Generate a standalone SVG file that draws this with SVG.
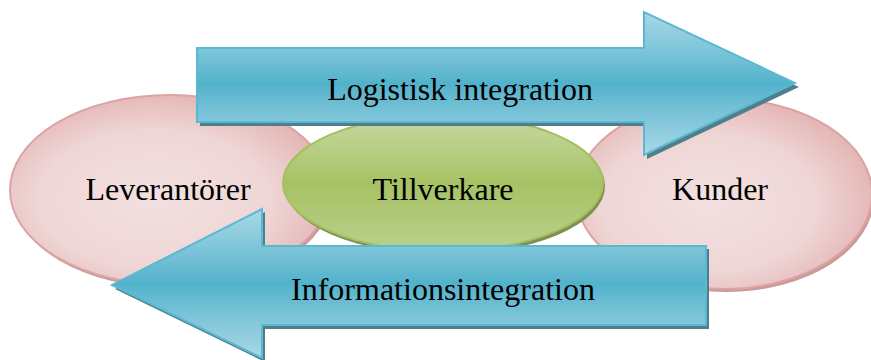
<svg xmlns="http://www.w3.org/2000/svg" width="871" height="360" viewBox="0 0 871 360">
<defs>
<radialGradient id="pink" cx="0.45" cy="0.55" r="0.6">
<stop offset="0" stop-color="#f3e0e0"/>
<stop offset="0.6" stop-color="#efd6d6"/>
<stop offset="1" stop-color="#e2b1b0"/>
</radialGradient>
<linearGradient id="green" x1="0" y1="0" x2="0" y2="1">
<stop offset="0" stop-color="#c8d9a4"/>
<stop offset="0.5" stop-color="#a6c264"/>
<stop offset="1" stop-color="#b9d08c"/>
</linearGradient>
<linearGradient id="blue" x1="0" y1="0" x2="0" y2="1">
<stop offset="0" stop-color="#a8d8e6"/>
<stop offset="0.28" stop-color="#7cc4d8"/>
<stop offset="0.5" stop-color="#52b2cb"/>
<stop offset="0.72" stop-color="#7cc4d8"/>
<stop offset="1" stop-color="#a8d8e6"/>
</linearGradient>
<style>
.pk{fill:url(#pink);stroke:#dca3a2;stroke-width:2}
.pks{fill:#c99a99}
.gr{fill:url(#green);stroke:#a3bf5e;stroke-width:2}
.grs{fill:#7d8f52}
.ar{fill:url(#blue);stroke:#5bb8d2;stroke-width:2}
.ars{fill:#4f7f8b}
.t{font-family:"Liberation Serif","Times New Roman",serif;font-size:32px;fill:#000;text-anchor:middle}
</style>
</defs>
<g id="leverantorer">
<ellipse class="pks" cx="172" cy="193" rx="160" ry="95"/>
<ellipse class="pk" cx="170" cy="190" rx="160" ry="95"/>
<text class="t" x="168" y="200">Leverantörer</text>
</g>
<g id="kunder">
<ellipse class="pks" cx="726" cy="197" rx="148" ry="95"/>
<ellipse class="pk" cx="724" cy="194" rx="148" ry="95"/>
<text class="t" x="720" y="200">Kunder</text>
</g>
<g id="tillverkare">
<ellipse class="grs" cx="445" cy="186" rx="160" ry="69"/>
<ellipse class="gr" cx="443" cy="183" rx="160" ry="68"/>
<text class="t" x="443" y="200">Tillverkare</text>
</g>
<g id="connectors">
<g id="logistisk">
<polygon class="ars" points="200,52 647,52 647,16 799,87 647,159 647,126 200,126"/>
<polygon class="ar" points="197,48 644,48 644,12 795,83 644,155 644,122 197,122"/>
<text class="t" x="460" y="100">Logistisk integration</text>
</g>
<g id="information">
<polygon class="ars" points="709,249 265,249 265,212 115,289 265,362 265,329 709,329"/>
<polygon class="ar" points="706,246 262,246 262,209 112,285 262,358 262,325 706,325"/>
<text class="t" x="443" y="300">Informationsintegration</text>
</g>
</g>
</svg>
